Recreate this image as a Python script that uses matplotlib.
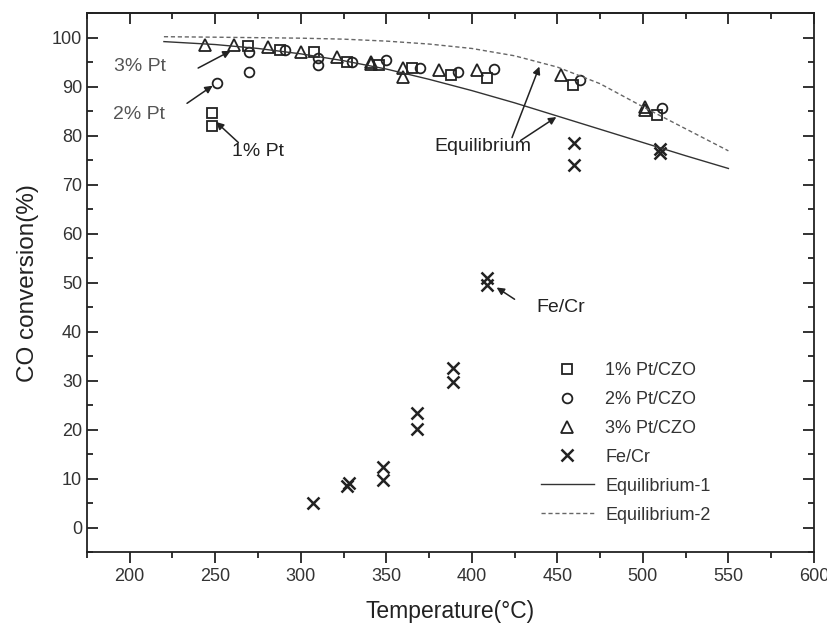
import matplotlib.pyplot as plt
from matplotlib.ticker import MultipleLocator

plt.rcParams['font.family'] = ['Liberation Sans', 'DejaVu Sans']

# CO conversion data (temperature in C, conversion in %)
pt1_temp = [248, 248, 269, 288, 308, 327, 346, 365, 388, 409, 459, 508]
pt1_conv = [84.7, 82.0, 98.2, 97.5, 97.1, 95.0, 94.5, 93.9, 92.4, 91.8, 90.4, 84.3]

pt2_temp = [251, 270, 270, 291, 310, 310, 330, 350, 370, 392, 413, 463, 511]
pt2_conv = [90.8, 97.1, 93.0, 97.5, 95.9, 94.5, 95.0, 95.5, 93.9, 93.0, 93.7, 91.4, 85.7]

pt3_temp = [244, 261, 281, 300, 321, 341, 341, 360, 360, 381, 403, 452, 501, 501]
pt3_conv = [98.6, 98.6, 98.0, 97.1, 96.1, 95.1, 94.6, 93.9, 92.0, 93.5, 93.5, 92.4, 85.9, 85.3]

fecr_temp = [307, 327, 328, 348, 348, 368, 368, 389, 389, 409, 409, 460, 460, 510, 510]
fecr_conv = [5.1, 8.5, 9.0, 12.3, 9.6, 23.3, 20.2, 32.5, 29.7, 50.9, 49.5, 78.5, 74.0, 77.2, 76.5]

eq_temp = [220, 250, 275, 300, 325, 350, 375, 400, 425, 450, 475, 500, 525, 550]
eq1_conv = [99.2, 98.6, 97.8, 96.7, 95.3, 93.6, 91.5, 89.2, 86.7, 84.0, 81.3, 78.6, 75.9, 73.3]
eq2_conv = [100.2, 100.1, 100.0, 99.9, 99.7, 99.3, 98.7, 97.8, 96.3, 94.0, 90.6, 85.9, 81.4, 76.9]

ink = '#222222'

fig = plt.figure(figsize=(8.28, 6.28), dpi=100)
ax = fig.add_axes([0.105, 0.121, 0.878, 0.858])

ax.plot(pt1_temp, pt1_conv, 's', ms=6.5, mfc='none', mec=ink, mew=1.3, label='1% Pt/CZO')
ax.plot(pt2_temp, pt2_conv, 'o', ms=7, mfc='none', mec=ink, mew=1.3, label='2% Pt/CZO')
ax.plot(pt3_temp, pt3_conv, '^', ms=8.5, mfc='none', mec=ink, mew=1.3, label='3% Pt/CZO')
ax.plot(fecr_temp, fecr_conv, 'x', ms=9, mec=ink, mew=1.8, label='Fe/Cr')
ax.plot(eq_temp, eq1_conv, '-', color='#333333', lw=1.0, label='Equilibrium-1')
ax.plot(eq_temp, eq2_conv, '--', color='#666666', lw=1.0, dashes=(3, 2), label='Equilibrium-2')

ax.set_xlim(175, 600)
ax.set_ylim(-5, 105)
ax.xaxis.set_major_locator(MultipleLocator(50))
ax.xaxis.set_minor_locator(MultipleLocator(25))
ax.yaxis.set_major_locator(MultipleLocator(10))
ax.yaxis.set_minor_locator(MultipleLocator(5))

ax.tick_params(axis='x', which='both', direction='out', width=1.3, colors=ink,
               labelsize=13, labelcolor='#333333')
ax.tick_params(axis='y', which='both', direction='in', right=True, width=1.3,
               colors=ink, labelsize=13, labelcolor='#333333')
ax.tick_params(which='major', length=8)
ax.tick_params(which='minor', length=4.5)

# top axis ticks point inward, no labels
top = ax.secondary_xaxis('top')
top.xaxis.set_major_locator(MultipleLocator(50))
top.xaxis.set_minor_locator(MultipleLocator(25))
top.tick_params(which='both', direction='in', width=1.3, colors=ink, labeltop=False)
top.tick_params(which='major', length=8)
top.tick_params(which='minor', length=4.5)

for sp in list(ax.spines.values()) + list(top.spines.values()):
    sp.set_linewidth(1.3)
    sp.set_color(ink)

ax.set_xlabel('Temperature(°C)', fontsize=16.5, color=ink, labelpad=11)
ax.set_ylabel('CO conversion(%)', fontsize=17.5, color=ink, labelpad=9)

# labels and pointer arrows
arrow = dict(arrowstyle='-|>', color=ink, lw=1.1, mutation_scale=11, shrinkA=0, shrinkB=0)
ax.text(191, 94.1, '3% Pt', fontsize=14, color='#555555', va='center')
ax.annotate('', xy=(259, 97.3), xytext=(240, 93.8), arrowprops=arrow)
ax.text(190, 84.3, '2% Pt', fontsize=14, color='#555555', va='center')
ax.annotate('', xy=(248.5, 90.2), xytext=(233.5, 86.6), arrowprops=arrow)
ax.text(260, 76.7, '1% Pt', fontsize=14, color=ink, va='center')
ax.annotate('', xy=(250.5, 82.8), xytext=(263.5, 78.6), arrowprops=arrow)
ax.text(378, 77.7, 'Equilibrium', fontsize=14, color=ink, va='center')
ax.annotate('', xy=(439.5, 94.1), xytext=(423.5, 79.6), arrowprops=arrow)
ax.annotate('', xy=(449.4, 83.8), xytext=(428.5, 79.0), arrowprops=arrow)
ax.text(438, 45, 'Fe/Cr', fontsize=14, color=ink, va='center')
ax.annotate('', xy=(414.5, 49.0), xytext=(425, 46.6), arrowprops=arrow)

ax.legend(loc='upper left', bbox_to_anchor=(0.615, 0.366), frameon=False, fontsize=13,
          labelspacing=0.66, handlelength=2.9, handletextpad=0.65, borderaxespad=0,
          labelcolor='#333333')

fig.savefig('out.png', dpi=100)
